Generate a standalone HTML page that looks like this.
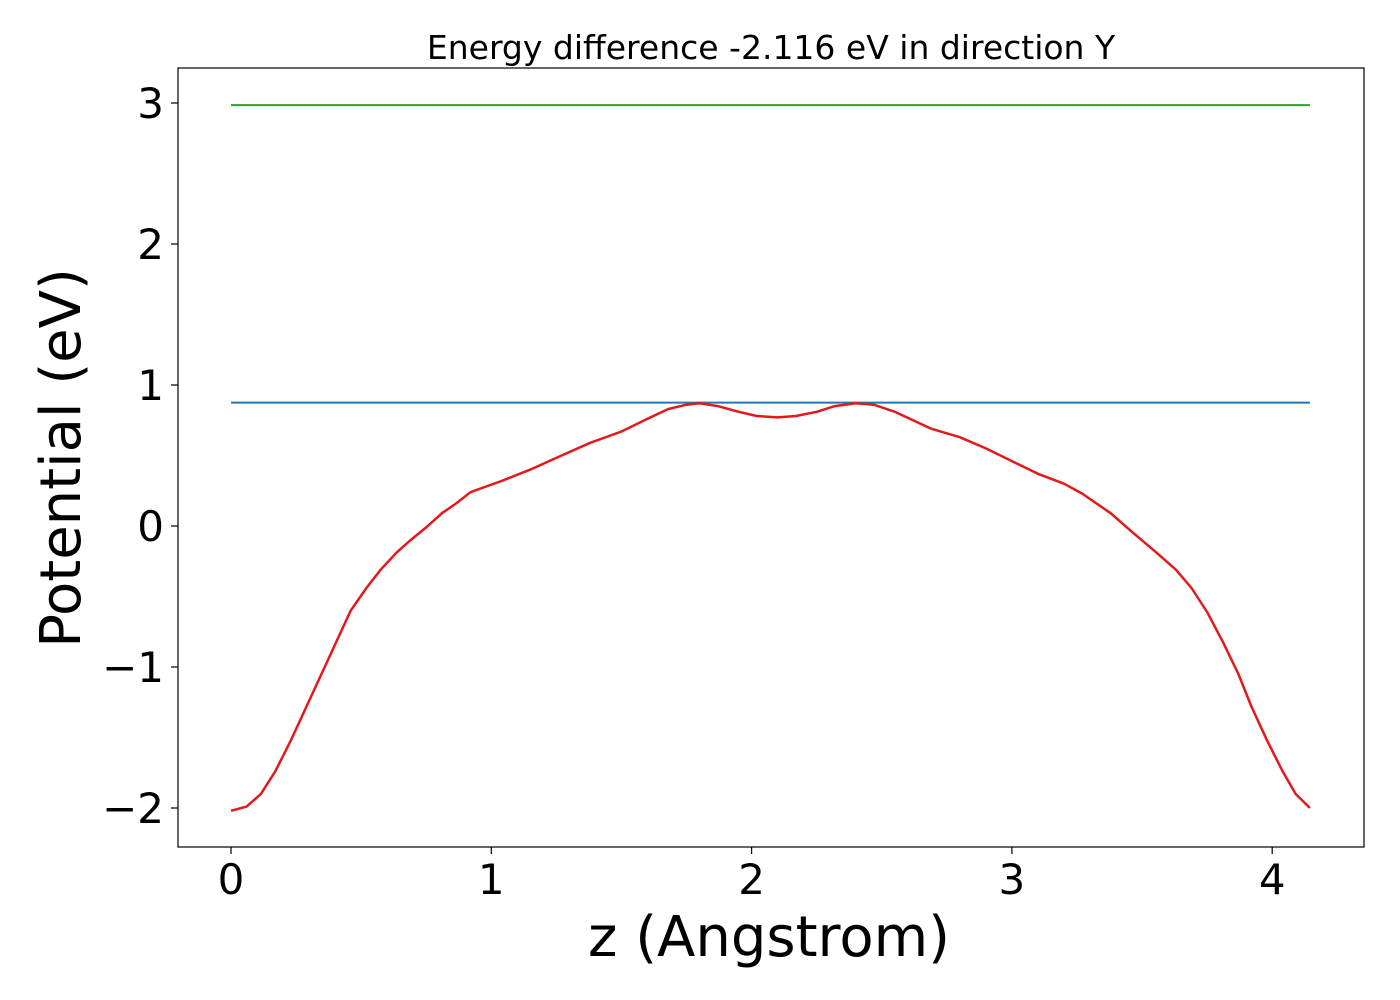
<!DOCTYPE html>
<html><head><meta charset="utf-8"><style>
html,body{margin:0;padding:0;background:#fff;}
svg{display:block;font-family:"DejaVu Sans","Liberation Sans",sans-serif;}
</style></head><body>
<svg id="chart" width="1400" height="1000">
<rect x="0" y="0" width="1400" height="1000" fill="#fff"/>
<text x="771" y="59" font-size="33" text-anchor="middle">Energy difference -2.116 eV in direction Y</text>
<g id="plot"></g>
<rect x="178" y="68" width="1186" height="779" fill="none" stroke="#000" stroke-width="1.2"/>
<text x="769" y="956" font-size="56" text-anchor="middle">z (Angstrom)</text>
<text transform="translate(80,458) rotate(-90)" font-size="56" text-anchor="middle">Potential (eV)</text>
</svg>
<script>
const zValues=[0,0.06,0.115,0.17,0.23,0.29,0.35,0.405,0.46,0.52,0.575,0.635,0.69,0.75,0.81,0.865,0.92,0.98,1.04,1.15,1.27,1.38,1.5,1.6,1.68,1.75,1.8,1.87,1.95,2.02,2.1,2.17,2.25,2.32,2.4,2.47,2.55,2.62,2.69,2.8,2.9,3.0,3.1,3.2,3.27,3.38,3.46,3.55,3.63,3.69,3.75,3.81,3.87,3.92,3.98,4.04,4.09,4.145];
const potential=[-2.02,-1.99,-1.90,-1.74,-1.52,-1.28,-1.04,-0.82,-0.60,-0.44,-0.31,-0.19,-0.10,-0.01,0.09,0.16,0.24,0.28,0.32,0.40,0.50,0.59,0.67,0.76,0.83,0.86,0.87,0.85,0.81,0.78,0.77,0.78,0.81,0.85,0.87,0.86,0.81,0.75,0.69,0.63,0.55,0.46,0.37,0.30,0.23,0.09,-0.04,-0.18,-0.31,-0.44,-0.61,-0.82,-1.05,-1.28,-1.52,-1.74,-1.90,-2.00];
const blueLevel=0.875;
const greenLevel=2.985;
const xTicks=[0,1,2,3,4];
const yTicks=[-2,-1,0,1,2,3];
const xTickLabels=["0","1","2","3","4"];
const yTickLabels=["\u22122","\u22121","0","1","2","3"];

const X=v=>231+v*260.3;
const Y=v=>526-v*141;
const NS="http://www.w3.org/2000/svg";
const g=document.getElementById('plot');
function mk(tag,attrs){const e=document.createElementNS(NS,tag);for(const k in attrs)e.setAttribute(k,attrs[k]);g.appendChild(e);return e;}

xTicks.forEach((t,i)=>{
  const l=mk('line',{x1:X(t),x2:X(t),y1:847,y2:854,stroke:'#000','stroke-width':1.2});
  
  
  const tx=mk('text',{x:X(t),y:894,'font-size':42,'text-anchor':'middle'});
  tx.textContent=xTickLabels[i];
  
  
});
yTicks.forEach((t,i)=>{
  const l=mk('line',{x1:171,x2:178,y1:Y(t),y2:Y(t),stroke:'#000','stroke-width':1.2});
  
  
  const tx=mk('text',{x:164,y:Y(t)+15,'font-size':42,'text-anchor':'end'});
  tx.textContent=yTickLabels[i];
  
  
});
const zMin=zValues[0], zMax=zValues[zValues.length-1];
const gl=mk('line',{x1:X(zMin),x2:X(zMax),y1:Y(greenLevel),y2:Y(greenLevel),stroke:'#2ca02c','stroke-width':2});


const bl=mk('line',{x1:X(zMin),x2:X(zMax),y1:Y(blueLevel),y2:Y(blueLevel),stroke:'#1f77b4','stroke-width':2});


const pts=zValues.map((z,i)=>X(z).toFixed(1)+','+Y(potential[i]).toFixed(1)).join(' ');
const pl=mk('polyline',{points:pts,fill:'none',stroke:'#e31a1c','stroke-width':2.5,'stroke-linejoin':'round'});


</script>
</body></html>
